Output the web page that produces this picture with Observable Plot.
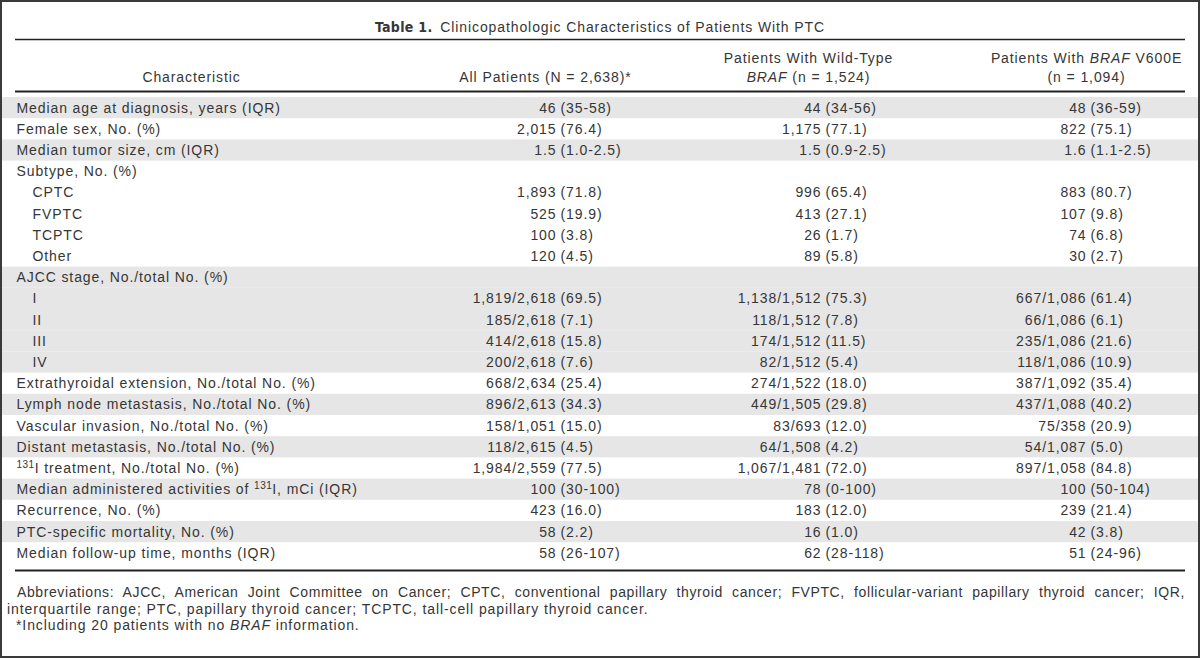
<!DOCTYPE html>
<html>
<head>
<meta charset="utf-8">
<script src="https://cdn.jsdelivr.net/npm/d3@7"></script>
<script src="https://cdn.jsdelivr.net/npm/@observablehq/plot@0.6"></script>
<style>
  html, body { margin: 0; padding: 0; background: #fff; }
  #wrap { position: relative; width: 1200px; height: 658px; overflow: hidden;
          font-family: "Liberation Sans", Arial, sans-serif; color: #363636; font-size: 14px; letter-spacing: 0.9px; }
  #chart { position: absolute; left: 0; top: 0; }
  #border { position: absolute; left: 0; top: 0; width: 1200px; height: 658px; border: 2px solid #3a3a3a;
            box-sizing: border-box; pointer-events: none; }
  #title { position: absolute; left: 0; top: 19px; width: 1200px; line-height: 16px; text-align: center; white-space: nowrap; }
  #title b { font-family: "Liberation Sans Narrow", "DejaVu Sans Condensed", sans-serif; font-weight: bold; letter-spacing: 0.3px; margin-right: 3px; }
  #notes { position: absolute; left: 7px; top: 584px; width: 1178px; line-height: 16.5px; }
  #notes .l1 { text-indent: 10px; text-align: justify; text-align-last: justify; letter-spacing: 0.6px; }
  #notes .l3 { padding-left: 9px; }
</style>
</head>
<body>
<div id="wrap">
  <div id="chart"></div>
  <div id="title"><b>Table 1.</b> Clinicopathologic Characteristics of Patients With PTC</div>
  <div id="notes">
    <div class="l1">Abbreviations: AJCC, American Joint Committee on Cancer; CPTC, conventional papillary thyroid cancer; FVPTC, follicular-variant papillary thyroid cancer; IQR,</div>
    <div class="l2">interquartile range; PTC, papillary thyroid cancer; TCPTC, tall-cell papillary thyroid cancer.</div>
    <div class="l3">*Including 20 patients with no <i>BRAF</i> information.</div>
  </div>
  <div id="border"></div>
</div>
<script>
// ---- data ----
const characteristics = [
  "Median age at diagnosis, years (IQR)",
  "Female sex, No. (%)",
  "Median tumor size, cm (IQR)",
  "Subtype, No. (%)",
  "CPTC",
  "FVPTC",
  "TCPTC",
  "Other",
  "AJCC stage, No./total No. (%)",
  "I",
  "II",
  "III",
  "IV",
  "Extrathyroidal extension, No./total No. (%)",
  "Lymph node metastasis, No./total No. (%)",
  "Vascular invasion, No./total No. (%)",
  "Distant metastasis, No./total No. (%)",
  "\u00B9\u00B3\u00B9I treatment, No./total No. (%)",
  "Median administered activities of \u00B9\u00B3\u00B9I, mCi (IQR)",
  "Recurrence, No. (%)",
  "PTC-specific mortality, No. (%)",
  "Median follow-up time, months (IQR)"
];
const indented = [false, false, false, false, true, true, true, true, false, true, true, true, true,
                  false, false, false, false, false, false, false, false, false];
const allPatients = [
  "46 (35-58)", "2,015 (76.4)", "1.5 (1.0-2.5)", "",
  "1,893 (71.8)", "525 (19.9)", "100 (3.8)", "120 (4.5)", "",
  "1,819/2,618 (69.5)", "185/2,618 (7.1)", "414/2,618 (15.8)", "200/2,618 (7.6)",
  "668/2,634 (25.4)", "896/2,613 (34.3)", "158/1,051 (15.0)", "118/2,615 (4.5)",
  "1,984/2,559 (77.5)", "100 (30-100)", "423 (16.0)", "58 (2.2)", "58 (26-107)"
];
const wildType = [
  "44 (34-56)", "1,175 (77.1)", "1.5 (0.9-2.5)", "",
  "996 (65.4)", "413 (27.1)", "26 (1.7)", "89 (5.8)", "",
  "1,138/1,512 (75.3)", "118/1,512 (7.8)", "174/1,512 (11.5)", "82/1,512 (5.4)",
  "274/1,522 (18.0)", "449/1,505 (29.8)", "83/693 (12.0)", "64/1,508 (4.2)",
  "1,067/1,481 (72.0)", "78 (0-100)", "183 (12.0)", "16 (1.0)", "62 (28-118)"
];
const brafV600E = [
  "48 (36-59)", "822 (75.1)", "1.6 (1.1-2.5)", "",
  "883 (80.7)", "107 (9.8)", "74 (6.8)", "30 (2.7)", "",
  "667/1,086 (61.4)", "66/1,086 (6.1)", "235/1,086 (21.6)", "118/1,086 (10.9)",
  "387/1,092 (35.4)", "437/1,088 (40.2)", "75/358 (20.9)", "54/1,087 (5.0)",
  "897/1,058 (84.8)", "100 (50-104)", "239 (21.4)", "42 (3.8)", "51 (24-96)"
];
const headerLine1 = ["", "", "Patients With Wild-Type", "Patients With BRAF V600E"];
const headerLine2 = ["Characteristic", "All Patients (N = 2,638)*", "BRAF (n = 1,524)", "(n = 1,094)"];

// ---- layout (not data) ----
const headerX = [191, 545, 808, 1086];
const columnAnchor = [560, 825, 1090];   // x of the "(" in each value column
const TEXT = "#363636";
const FONT = "Liberation Sans, Arial, sans-serif";

const rows = characteristics.map((label, i) => ({
  i, label, sub: indented[i], vals: [allPatients[i], wildType[i], brafV600E[i]]
}));
let grp = -1;
rows.forEach(r => { if (!r.sub) grp++; r.group = grp; });

const split = s => {
  const k = s.indexOf(" (");
  return k < 0 ? [s, ""] : [s.slice(0, k), s.slice(k + 1)];
};

const valueMarks = [];
columnAnchor.forEach((ax, c) => {
  const data = rows.filter(r => r.vals[c] !== "");
  valueMarks.push(Plot.text(data, {
    x: () => ax, y: d => d.i + 0.5, text: d => split(d.vals[c])[0],
    textAnchor: "end", dx: -4, fill: TEXT, fontSize: 14, fontFamily: FONT
  }));
  valueMarks.push(Plot.text(data, {
    x: () => ax, y: d => d.i + 0.5, text: d => split(d.vals[c])[1],
    textAnchor: "start", fill: TEXT, fontSize: 14, fontFamily: FONT
  }));
});

const svg = Plot.plot({
  width: 1200,
  height: 658,
  marginTop: 97,
  marginBottom: 94.6,
  marginLeft: 0,
  marginRight: 0,
  style: { background: "transparent", letterSpacing: "0.9px", fontFamily: FONT },
  x: { type: "linear", domain: [0, 1200], range: [0, 1200], axis: null },
  y: { type: "linear", domain: [0, characteristics.length], range: [97, 563.4], axis: null },
  marks: [
    Plot.rect(rows.filter(r => r.group % 2 === 0), {
      x1: () => 0, x2: () => 1200, y1: d => d.i, y2: d => d.i + 1, fill: "#e6e6e6"
    }),
    Plot.ruleY([0], { x1: () => 15, x2: () => 1185, dy: -58, stroke: "#222", strokeWidth: 1.5 }),
    Plot.ruleY([0], { x1: () => 15, x2: () => 1185, dy: -6, stroke: "#222", strokeWidth: 1.8 }),
    Plot.ruleY([characteristics.length], { x1: () => 15, x2: () => 1185, dy: 6.6, stroke: "#222", strokeWidth: 2 }),
    Plot.text(headerLine1, {
      x: (d, i) => headerX[i], y: () => 0, dy: -39, text: d => d,
      fill: TEXT, fontSize: 14, fontFamily: FONT
    }),
    Plot.text(headerLine2, {
      x: (d, i) => headerX[i], y: () => 0, dy: -20, text: d => d,
      fill: TEXT, fontSize: 14, fontFamily: FONT
    }),
    Plot.text(rows, {
      x: d => (d.sub ? 32 : 16), y: d => d.i + 0.5, text: "label",
      textAnchor: "start", fill: TEXT, fontSize: 14, fontFamily: FONT
    }),
    ...valueMarks
  ]
});

// rich-text touches on real text: italic gene name, proper superscript isotope number
d3.select(svg).selectAll("text").each(function () {
  const t = this.textContent;
  if (!t) return;
  const el = d3.select(this);
  if (t.includes("BRAF")) {
    const parts = t.split("BRAF");
    el.text(null).style("white-space", "pre");
    parts.forEach((p, k) => {
      if (k > 0) el.append("tspan").attr("font-style", "italic").text("BRAF");
      if (p) el.append("tspan").text(p);
    });
  } else if (t.includes("\u00B9\u00B3\u00B9")) {
    const parts = t.split("\u00B9\u00B3\u00B9");
    el.text(null).style("white-space", "pre");
    parts.forEach((p, k) => {
      if (k > 0) {
        el.append("tspan").attr("font-size", 10).attr("dy", -5).attr("letter-spacing", "0.5px").text("131");
        el.append("tspan").attr("dy", 5).text(p);
      } else if (p) {
        el.append("tspan").text(p);
      }
    });
  }
});

document.getElementById("chart").appendChild(svg);
</script>
</body>
</html>
